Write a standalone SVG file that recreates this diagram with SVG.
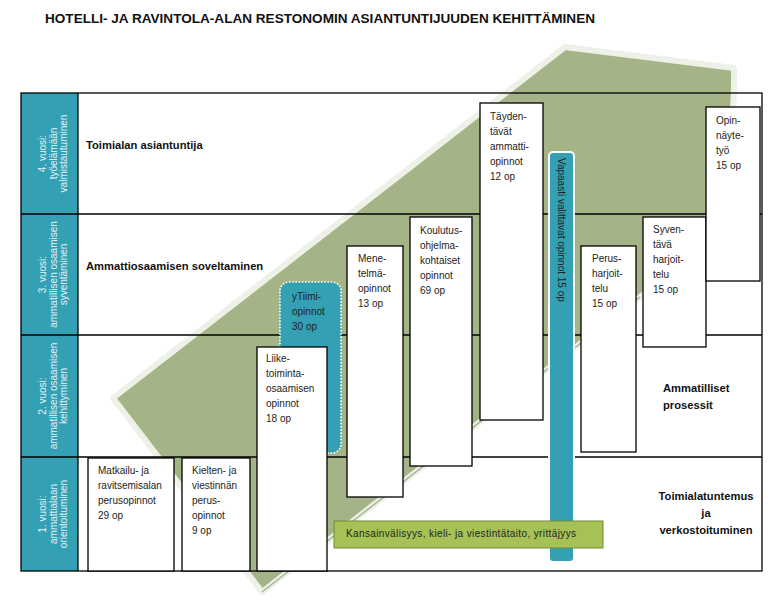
<svg xmlns="http://www.w3.org/2000/svg" width="781" height="606" viewBox="0 0 781 606">
<style>
.t{font-family:"Liberation Sans",Arial,sans-serif;font-size:10px;fill:#222}
.b{font-family:"Liberation Sans",Arial,sans-serif;font-size:11.2px;font-weight:bold;fill:#111}
.yr{font-family:"Liberation Sans",Arial,sans-serif;font-size:10px;fill:#e4f2f5;text-anchor:middle}
.box{fill:#fff;stroke:#000;stroke-width:1.3}
.ln{stroke:#000;stroke-width:1.3;fill:none}
.teal{fill:#33a0b4}
</style>
<rect width="781" height="606" fill="#fff"/>
<text x="45" y="23" font-family="'Liberation Sans',Arial,sans-serif" font-size="13.5" font-weight="bold" fill="#111" textLength="550" lengthAdjust="spacingAndGlyphs">HOTELLI- JA RAVINTOLA-ALAN RESTONOMIN ASIANTUNTIJUUDEN KEHITTÄMINEN</text>

<g id="background-shape">
<path d="M113,398 L565,47 L734,68 Q737,230 640,297 L262,592 Z" fill="#a5b486" stroke="#eef1e8" stroke-width="6" stroke-linejoin="round"/>
<line x1="640" y1="297" x2="262" y2="592" stroke="#a9b596" stroke-width="1.5"/>
</g>

<g id="table">
<rect class="teal" x="21" y="93" width="57" height="478"/>
<rect class="ln" x="21" y="93" width="741" height="478"/>
<line class="ln" x1="78" y1="93" x2="78" y2="571"/>
<line class="ln" x1="21" y1="214" x2="762" y2="214"/>
<line class="ln" x1="21" y1="335" x2="762" y2="335"/>
<line class="ln" x1="21" y1="457" x2="762" y2="457"/>
</g>

<g id="year4">
<text class="yr" transform="translate(46,153.5) rotate(-90)">4. vuosi:</text>
<text class="yr" transform="translate(56.5,153.5) rotate(-90)">työelämään</text>
<text class="yr" transform="translate(67,153.5) rotate(-90)">valmistautuminen</text>
</g>
<g id="year3">
<text class="yr" transform="translate(46,274.5) rotate(-90)">3. vuosi:</text>
<text class="yr" transform="translate(56.5,274.5) rotate(-90)">ammatillisen osaamisen</text>
<text class="yr" transform="translate(67,274.5) rotate(-90)">syventäminen</text>
</g>
<g id="year2">
<text class="yr" transform="translate(46,396) rotate(-90)">2. vuosi:</text>
<text class="yr" transform="translate(56.5,396) rotate(-90)">ammatillisen osaamisen</text>
<text class="yr" transform="translate(67,396) rotate(-90)">kehittyminen</text>
</g>
<g id="year1">
<text class="yr" transform="translate(46,514) rotate(-90)">1. vuosi:</text>
<text class="yr" transform="translate(56.5,514) rotate(-90)">ammattialaan</text>
<text class="yr" transform="translate(67,514) rotate(-90)">orientoituminen</text>
</g>

<g id="row-labels">
<text class="b" x="86" y="149">Toimialan asiantuntija</text>
<text class="b" x="86" y="270">Ammattiosaamisen soveltaminen</text>
<text class="b" x="663" y="392">Ammatilliset</text>
<text class="b" x="663" y="409">prosessit</text>
<text class="b" x="706" y="500" text-anchor="middle">Toimialatuntemus</text>
<text class="b" x="706" y="517" text-anchor="middle">ja</text>
<text class="b" x="706" y="534" text-anchor="middle">verkostoituminen</text>
</g>

<g id="ytiimi">
<rect class="teal" x="280" y="282" width="61" height="171" rx="9" stroke="#fff" stroke-width="1.6" stroke-dasharray="1.6 1.6"/>
<text class="t" x="292" y="300">yTiimi-</text>
<text class="t" x="292" y="315">opinnot</text>
<text class="t" x="292" y="330">30 op</text>
</g>

<g id="matkailu">
<rect class="box" x="88" y="458" width="86" height="113"/>
<text class="t" x="98" y="474">Matkailu-  ja</text>
<text class="t" x="98" y="489">ravitsemisalan</text>
<text class="t" x="98" y="504">perusopinnot</text>
<text class="t" x="98" y="519">29 op</text>
</g>

<g id="kielten">
<rect class="box" x="182" y="458" width="68" height="113"/>
<text class="t" x="192" y="474">Kielten- ja</text>
<text class="t" x="192" y="489">viestinnän</text>
<text class="t" x="192" y="504">perus-</text>
<text class="t" x="192" y="519">opinnot</text>
<text class="t" x="192" y="534">9 op</text>
</g>

<g id="liike">
<rect class="box" x="257" y="347" width="70" height="224"/>
<text class="t" x="266" y="362">Liike-</text>
<text class="t" x="266" y="377">toiminta-</text>
<text class="t" x="266" y="392">osaamisen</text>
<text class="t" x="266" y="407">opinnot</text>
<text class="t" x="266" y="422">18 op</text>
</g>

<g id="menetelma">
<rect class="box" x="347" y="246" width="56" height="251"/>
<text class="t" x="358" y="262">Mene-</text>
<text class="t" x="358" y="277">telmä-</text>
<text class="t" x="358" y="292">opinnot</text>
<text class="t" x="358" y="307">13 op</text>
</g>

<g id="koulutus">
<rect class="box" x="410" y="217" width="62" height="249"/>
<text class="t" x="420" y="234">Koulutus-</text>
<text class="t" x="420" y="249">ohjelma-</text>
<text class="t" x="420" y="264">kohtaiset</text>
<text class="t" x="420" y="279">opinnot</text>
<text class="t" x="420" y="294">69 op</text>
</g>

<g id="taydentavat">
<rect class="box" x="480" y="103" width="63" height="317"/>
<text class="t" x="490" y="120">Täyden-</text>
<text class="t" x="490" y="135">tävät</text>
<text class="t" x="490" y="150">ammatti-</text>
<text class="t" x="490" y="165">opinnot</text>
<text class="t" x="490" y="180">12 op</text>
</g>

<g id="perusharjoittelu">
<rect class="box" x="581" y="246" width="55" height="206"/>
<text class="t" x="592" y="262">Perus-</text>
<text class="t" x="592" y="277">harjoit-</text>
<text class="t" x="592" y="292">telu</text>
<text class="t" x="592" y="307">15 op</text>
</g>

<g id="syventava">
<rect class="box" x="643" y="217" width="63" height="130"/>
<text class="t" x="653" y="233">Syven-</text>
<text class="t" x="653" y="248">tävä</text>
<text class="t" x="653" y="263">harjoit-</text>
<text class="t" x="653" y="278">telu</text>
<text class="t" x="653" y="293">15 op</text>
</g>

<g id="opinnaytetyo">
<rect class="box" x="706" y="107" width="54" height="174"/>
<text class="t" x="716" y="124">Opin-</text>
<text class="t" x="716" y="139">näyte-</text>
<text class="t" x="716" y="154">työ</text>
<text class="t" x="716" y="169">15 op</text>
</g>

<g id="vapaasti">
<rect class="teal" x="549" y="152" width="25" height="410" rx="4" stroke="#fff" stroke-width="2"/>
<text class="t" transform="translate(558,158) rotate(90)">Vapaasti valittavat opinnot 15 op</text>
</g>

<g id="kansainvalisyys">
<rect x="334" y="521" width="269" height="27" fill="#a6c256" stroke="#6f8a34" stroke-width="1"/>
<text class="t" x="346" y="537" font-size="11.5" textLength="230" lengthAdjust="spacing">Kansainvälisyys, kieli- ja viestintätaito, yrittäjyys</text>
</g>

<g id="connectors"></g>
</svg>
